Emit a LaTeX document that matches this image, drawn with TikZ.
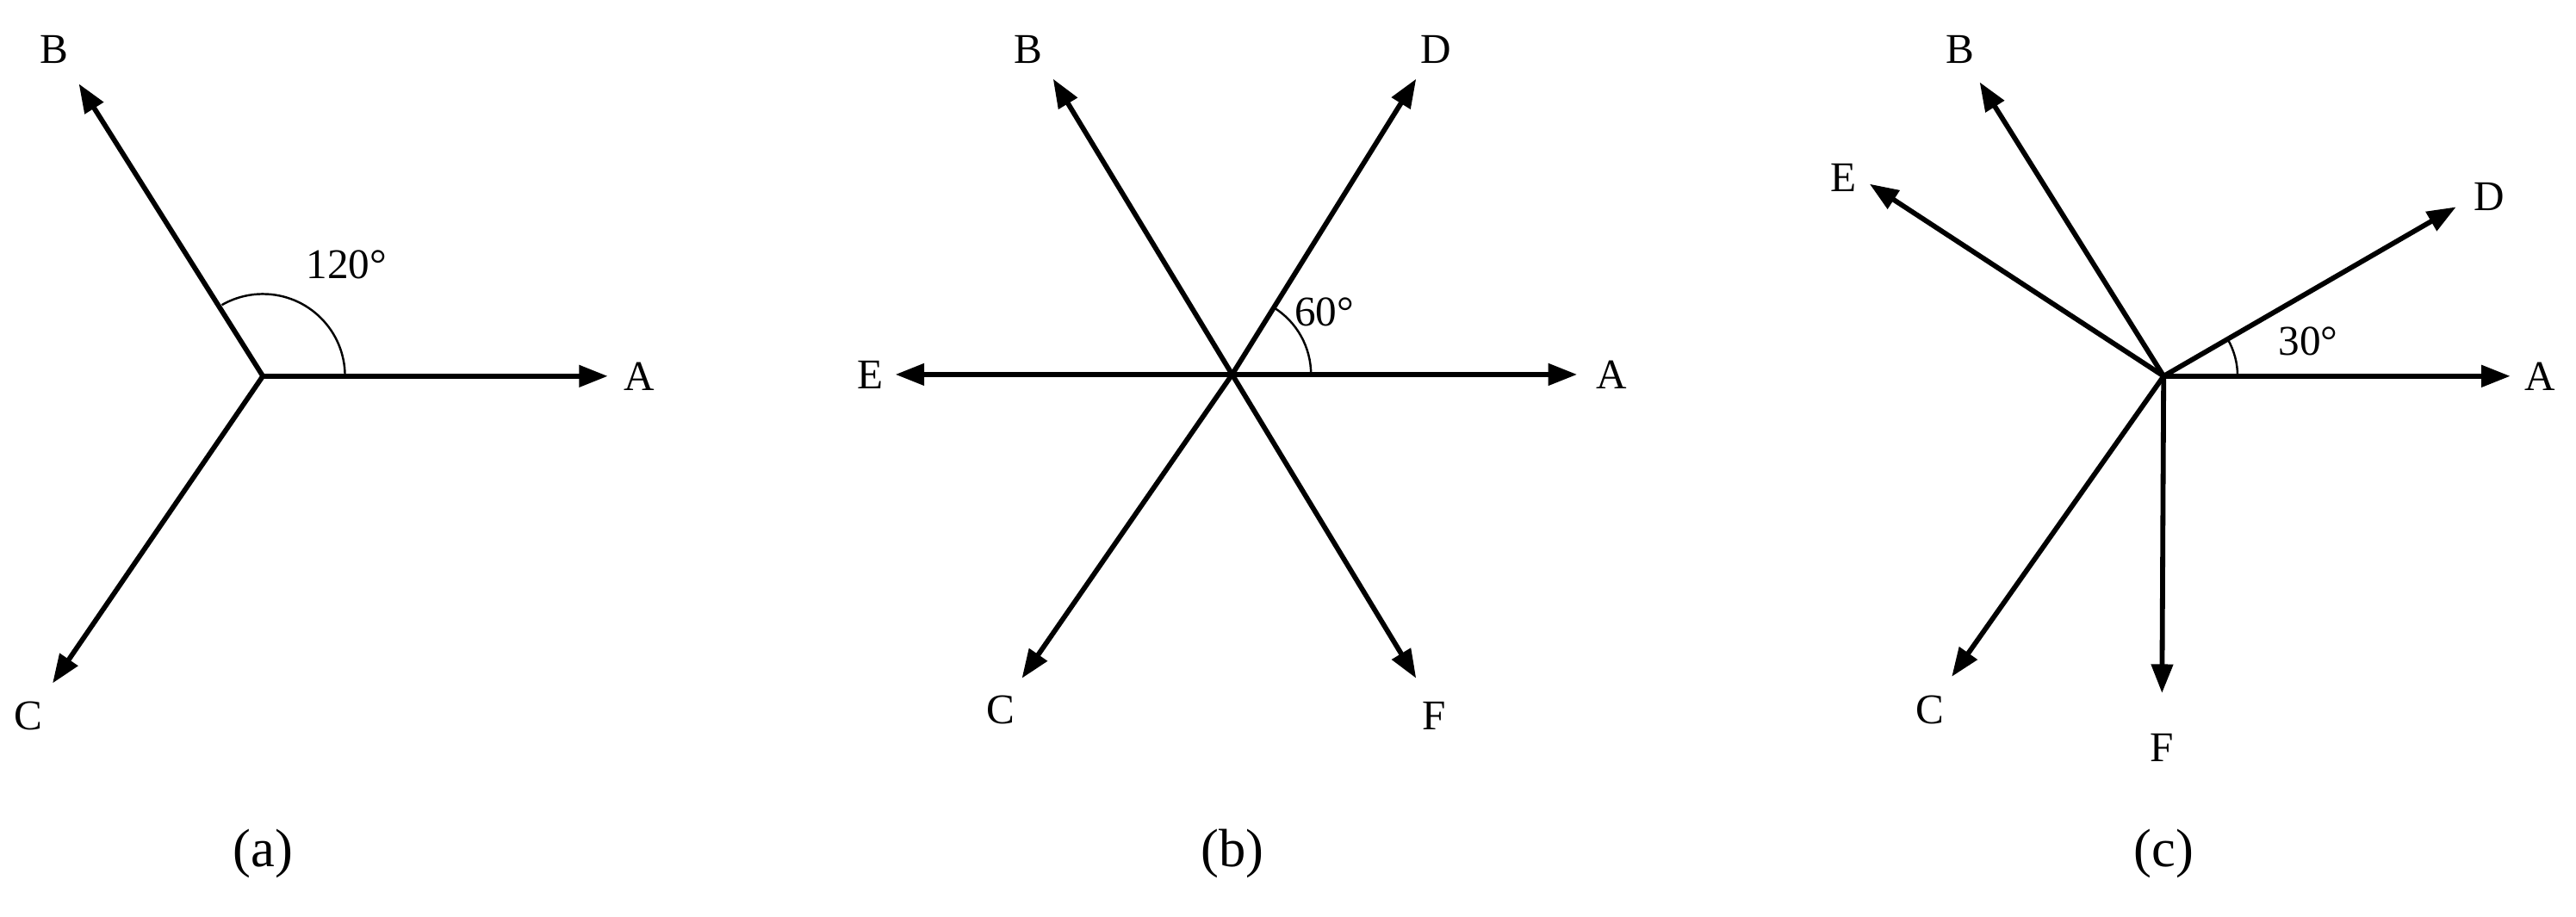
\documentclass[tikz,border=0pt]{standalone}
\usepackage{fontspec}
\setmainfont{Liberation Serif}
\usetikzlibrary{arrows.meta}
\begin{document}
\begin{tikzpicture}[x=0.03cm,y=-0.03cm,
  vec/.style={line width=2.6pt,-{Triangle[length=15pt,width=11pt]}},
  ang/.style={line width=1.1pt},
  lab/.style={font=\fontsize{22}{26}\selectfont,inner sep=0pt},
  captxt/.style={font=\fontsize{28}{32}\selectfont,inner sep=0pt}]
\useasboundingbox (0,0) rectangle (1568,558);
% (a)
\coordinate (Oa) at (160,229);
\coordinate (aA) at (370,229);\coordinate (aB) at (48,51);\coordinate (aC) at (32,416);
\draw[ang] (Oa)++(50,0) arc[start angle=0,end angle=120,radius=50*0.03cm];
\draw[vec] (Oa) -- (aA); \draw[vec] (Oa) -- (aB); \draw[vec] (Oa) -- (aC);
\node[lab] (laA) at (389,229) {A};
\node[lab] (laB) at (33,30) {B};
\node[lab] (laC) at (17,436) {C};
\node[lab] (la120) at (211,161) {120°};
\node[captxt] (capa) at (160,520) {(a)};
% (b)
\coordinate (Ob) at (750,228);
\coordinate (bA) at (960,228);\coordinate (bE) at (545,228);\coordinate (bB) at (641,48);
\coordinate (bD) at (862,48);\coordinate (bC) at (622,413);\coordinate (bF) at (862,413);
\draw[ang] (Ob)++(48,0) arc[start angle=0,end angle=58,radius=48*0.03cm];
\foreach \t in {bA,bE,bB,bD,bC,bF} \draw[vec] (Ob) -- (\t);
\node[lab] (lbA) at (981,228) {A};
\node[lab] (lbE) at (530,228) {E};
\node[lab] (lbB) at (626,30) {B};
\node[lab] (lbD) at (874,30) {D};
\node[lab] (lbC) at (609,432) {C};
\node[lab] (lbF) at (873,436) {F};
\node[lab] (lb60) at (806,190) {60°};
\node[captxt] (capb) at (750,520) {(b)};
% (c)
\coordinate (Oc) at (1317,229);
\coordinate (cA) at (1528,229);\coordinate (cD) at (1495,126);\coordinate (cB) at (1205,50);
\coordinate (cE) at (1138,112);\coordinate (cC) at (1188,412);\coordinate (cF) at (1316,422);
\draw[ang] (Oc)++(45,0) arc[start angle=0,end angle=30,radius=45*0.03cm];
\foreach \t in {cA,cD,cB,cE,cC,cF} \draw[vec] (Oc) -- (\t);
\node[lab] (lcA) at (1546,229) {A};
\node[lab] (lcD) at (1515,120) {D};
\node[lab] (lcB) at (1193,30) {B};
\node[lab] (lcE) at (1122,108) {E};
\node[lab] (lcC) at (1175,432) {C};
\node[lab] (lcF) at (1316,455) {F};
\node[lab] (lc30) at (1405,208) {30°};
\node[captxt] (capc) at (1317,520) {(c)};
\end{tikzpicture}
\end{document}
